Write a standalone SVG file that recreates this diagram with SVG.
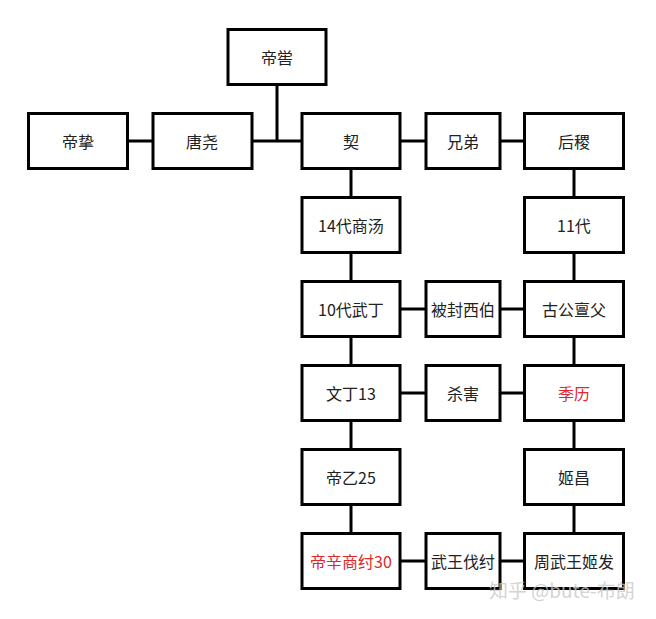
<svg xmlns="http://www.w3.org/2000/svg" width="656" height="619" viewBox="0 0 656 619">
<style>
.b{fill:#fff;stroke:#000;stroke-width:3}
.t{font-family:"Noto Sans CJK SC","Microsoft YaHei",sans-serif;font-size:16px;fill:#222;text-anchor:middle;dominant-baseline:central}
.r{fill:#e0282a}
.c{stroke:#000;stroke-width:3;fill:none}
.w{font-family:"Noto Sans CJK SC",sans-serif;font-size:19px;fill:#c8c8c8;fill-opacity:0.8}
</style>
<rect width="656" height="619" fill="#fff"/>
<g id="connectors">
<path class="c" d="M277 85V141M128 141H152M252 141H302M401 141H425M500 141H524M351 169V198M574 169V198M351 253V282M574 253V282M401 309H425M500 309H524M351 337V366M574 337V366M401 393H425M500 393H524M351 421V450M574 421V450M351 505V534M574 505V534M401 561H425M500 561H524"/>
</g>
<g id="n_diku"><rect class="b" x="228" y="29.5" width="98" height="55"/><text class="t" x="277" y="57">帝喾</text></g>
<g id="n_dizhi"><rect class="b" x="28.5" y="113.5" width="99" height="55"/><text class="t" x="78" y="141">帝挚</text></g>
<g id="n_tangyao"><rect class="b" x="153" y="113.5" width="99" height="55"/><text class="t" x="202" y="141">唐尧</text></g>
<g id="n_qi"><rect class="b" x="302" y="113.5" width="98" height="55"/><text class="t" x="351" y="141">契</text></g>
<g id="n_xiongdi"><rect class="b" x="426" y="113.5" width="74" height="55"/><text class="t" x="463" y="141">兄弟</text></g>
<g id="n_houji"><rect class="b" x="524.5" y="113.5" width="99" height="55"/><text class="t" x="574" y="141">后稷</text></g>
<g id="n_tang"><rect class="b" x="302" y="197.5" width="98" height="55"/><text class="t" x="351" y="225">14代商汤</text></g>
<g id="n_11"><rect class="b" x="524.5" y="197.5" width="99" height="55"/><text class="t" x="574" y="225">11代</text></g>
<g id="n_wuding"><rect class="b" x="302" y="281.5" width="98" height="55"/><text class="t" x="351" y="309">10代武丁</text></g>
<g id="n_xibo"><rect class="b" x="426" y="281.5" width="74" height="55"/><text class="t" x="463" y="309">被封西伯</text></g>
<g id="n_gugong"><rect class="b" x="524.5" y="281.5" width="99" height="55"/><text class="t" x="574" y="309">古公亶父</text></g>
<g id="n_wending"><rect class="b" x="302" y="365.5" width="98" height="55"/><text class="t" x="351" y="393">文丁13</text></g>
<g id="n_shahai"><rect class="b" x="426" y="365.5" width="74" height="55"/><text class="t" x="463" y="393">杀害</text></g>
<g id="n_jili"><rect class="b" x="524.5" y="365.5" width="99" height="55"/><text class="t r" x="574" y="393">季历</text></g>
<g id="n_diyi"><rect class="b" x="302" y="449.5" width="98" height="55"/><text class="t" x="351" y="477">帝乙25</text></g>
<g id="n_jichang"><rect class="b" x="524.5" y="449.5" width="99" height="55"/><text class="t" x="574" y="477">姬昌</text></g>
<g id="n_dixin"><rect class="b" x="302" y="533.5" width="98" height="55"/><text class="t r" x="351" y="561">帝辛商纣30</text></g>
<g id="n_fazhou"><rect class="b" x="426" y="533.5" width="74" height="55"/><text class="t" x="463" y="561">武王伐纣</text></g>
<g id="n_jifa"><rect class="b" x="524.5" y="533.5" width="99" height="55"/><text class="t" x="574" y="561">周武王姬发</text></g>
<text class="w" x="489" y="598">知乎 @bute-布朗</text>
</svg>
